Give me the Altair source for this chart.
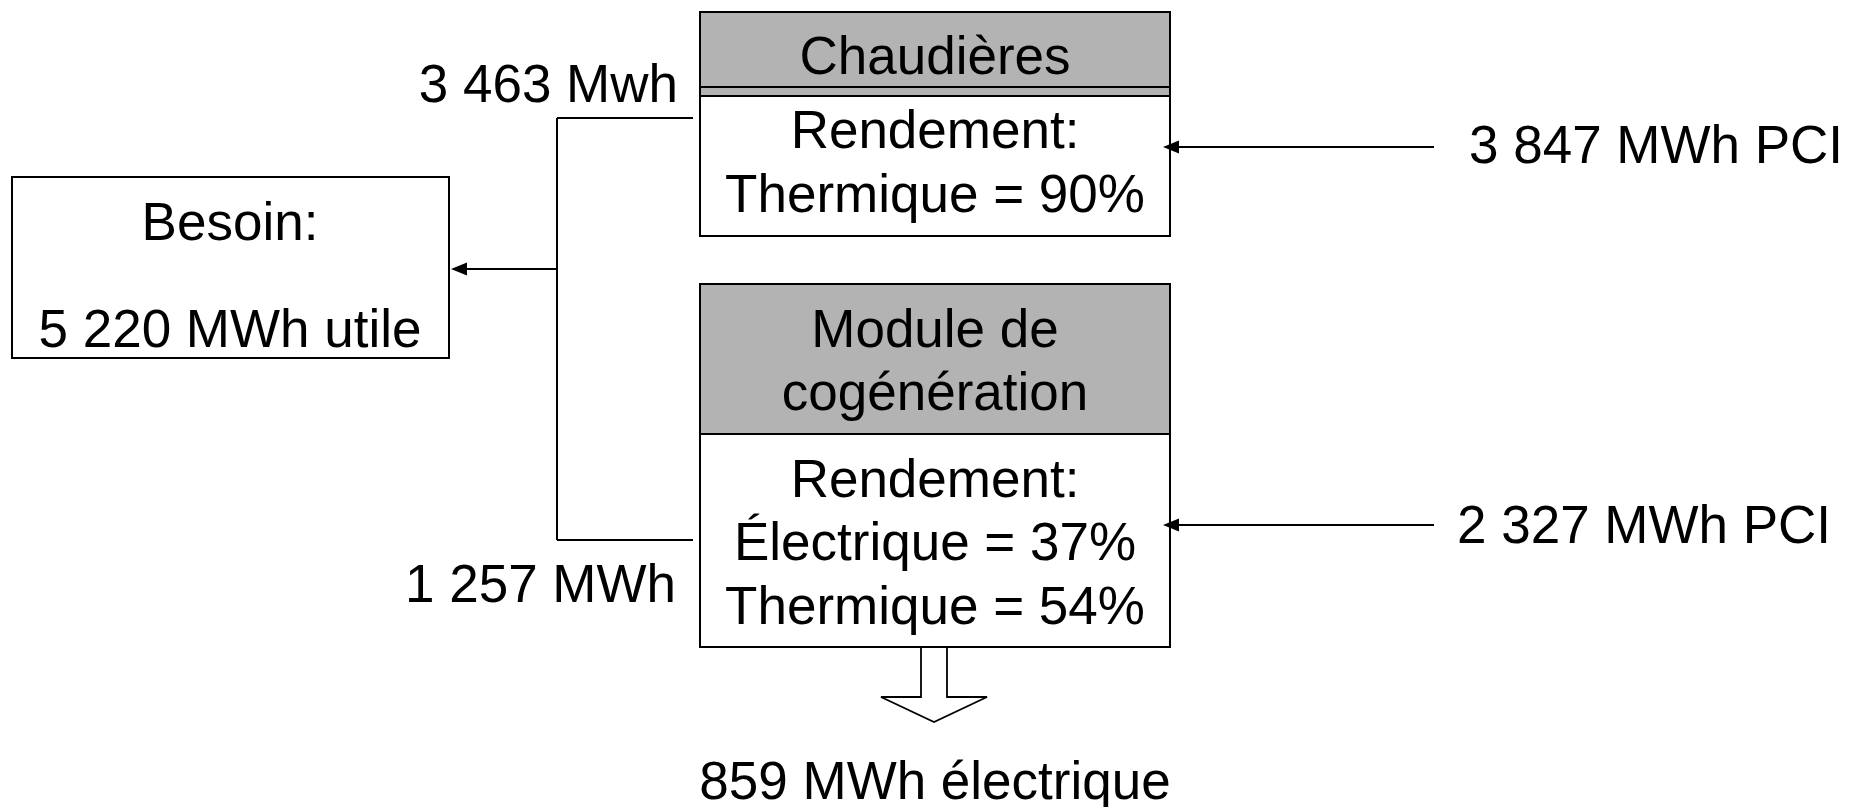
import altair as alt
import pandas as pd

# ---- data (page pixel coordinates of the diagram elements) ----
box_names = ["chaud_head", "chaud_body", "module_head", "module_body", "besoin"]
box_x1 = [700, 700, 700, 700, 12]
box_x2 = [1170, 1170, 1170, 1170, 449]
box_y1 = [12, 96, 284, 434, 177]
box_y2 = [96, 236, 434, 647, 358]
box_fill = ["#b3b3b3", "#ffffff", "#b3b3b3", "#ffffff", "#ffffff"]

# connector segments
seg_x1 = [693, 557, 693, 557, 1434, 1434, 700]
seg_x2 = [557, 557, 557, 458, 1168, 1168, 1170]
seg_y1 = [118, 118, 540, 269, 147, 525, 87]
seg_y2 = [118, 540, 540, 269, 147, 525, 87]
seg_w = [2, 2, 2, 2, 2, 2, 2]

# arrowheads (tip positions)
head_x = [451, 1163, 1163]
head_y = [269, 147, 525]

# hollow output arrow outline
out_x = [921, 921, 881, 934, 987, 947, 947]
out_y = [647, 697, 697, 722, 697, 697, 647]

# texts
c_text = ["Chaudières", "Rendement:", "Thermique = 90%", "Module de", "cogénération",
          "Rendement:", "Électrique = 37%", "Thermique = 54%", "Besoin:", "5 220 MWh utile",
          "859 MWh électrique"]
c_x = [935, 935, 935, 935, 935, 935, 935, 935, 230, 230, 935]
c_y = [74, 148, 212, 347, 410, 497, 560, 624, 240, 347, 799]

r_text = ["3 463 Mwh", "1 257 MWh"]
r_x = [678, 676]
r_y = [102, 602]

l_text = ["3 847 MWh PCI", "2 327 MWh PCI"]
l_x = [1469, 1457]
l_y = [163, 543]

FONT = "Liberation Sans"
FS = 53

W, H = 1833, 799
xs = alt.Scale(domain=[8, 8 + W], nice=False, zero=False)
ys = alt.Scale(domain=[8, 8 + H], nice=False, zero=False, reverse=True)

boxes = pd.DataFrame({"name": box_names, "x": box_x1, "x2": box_x2,
                      "y": box_y1, "y2": box_y2, "fill": box_fill})
segs = pd.DataFrame({"x": seg_x1, "x2": seg_x2, "y": seg_y1, "y2": seg_y2, "w": seg_w})
heads = pd.DataFrame({"x": [v + 8 for v in head_x], "y": head_y})
outa = pd.DataFrame({"x": out_x, "y": out_y, "o": list(range(len(out_x)))})
ctext = pd.DataFrame({"x": c_x, "y": c_y, "t": c_text})
rtext = pd.DataFrame({"x": r_x, "y": r_y, "t": r_text})
ltext = pd.DataFrame({"x": l_x, "y": l_y, "t": l_text})

X = lambda f="x": alt.X(f + ":Q", scale=xs, axis=None)
Y = lambda f="y": alt.Y(f + ":Q", scale=ys, axis=None)

rect_layer = alt.Chart(boxes).mark_rect(stroke="black", strokeWidth=2).encode(
    x=X(), x2="x2:Q", y=Y(), y2="y2:Q", fill=alt.Fill("fill:N", scale=None))

seg_layer = alt.Chart(segs).mark_rule(color="black").encode(
    x=X(), x2="x2:Q", y=Y(), y2="y2:Q", strokeWidth=alt.StrokeWidth("w:Q", scale=None))

head_layer = alt.Chart(heads).mark_point(
    shape="M-1,0L1,-0.8L1,0.8Z", filled=True, color="black", opacity=1, size=256,
    strokeWidth=0).encode(x=X(), y=Y())

out_layer = alt.Chart(outa).mark_line(color="black", strokeWidth=1.8).encode(
    x=X(), y=Y(), order="o:Q")

def text_layer(df, align):
    return alt.Chart(df).mark_text(
        align=align, baseline="alphabetic", font=FONT, fontSize=FS, color="black").encode(
        x=X(), y=Y(), text="t:N")

chart = alt.layer(
    rect_layer, seg_layer, head_layer, out_layer,
    text_layer(ctext, "center"), text_layer(rtext, "right"), text_layer(ltext, "left"),
).properties(
    width=W, height=H, padding=0, autosize=alt.AutoSizeParams(type="none"),
    background="white",
).configure_view(stroke=None)

chart.save("out.html", embed_options={"renderer": "svg", "actions": False})
